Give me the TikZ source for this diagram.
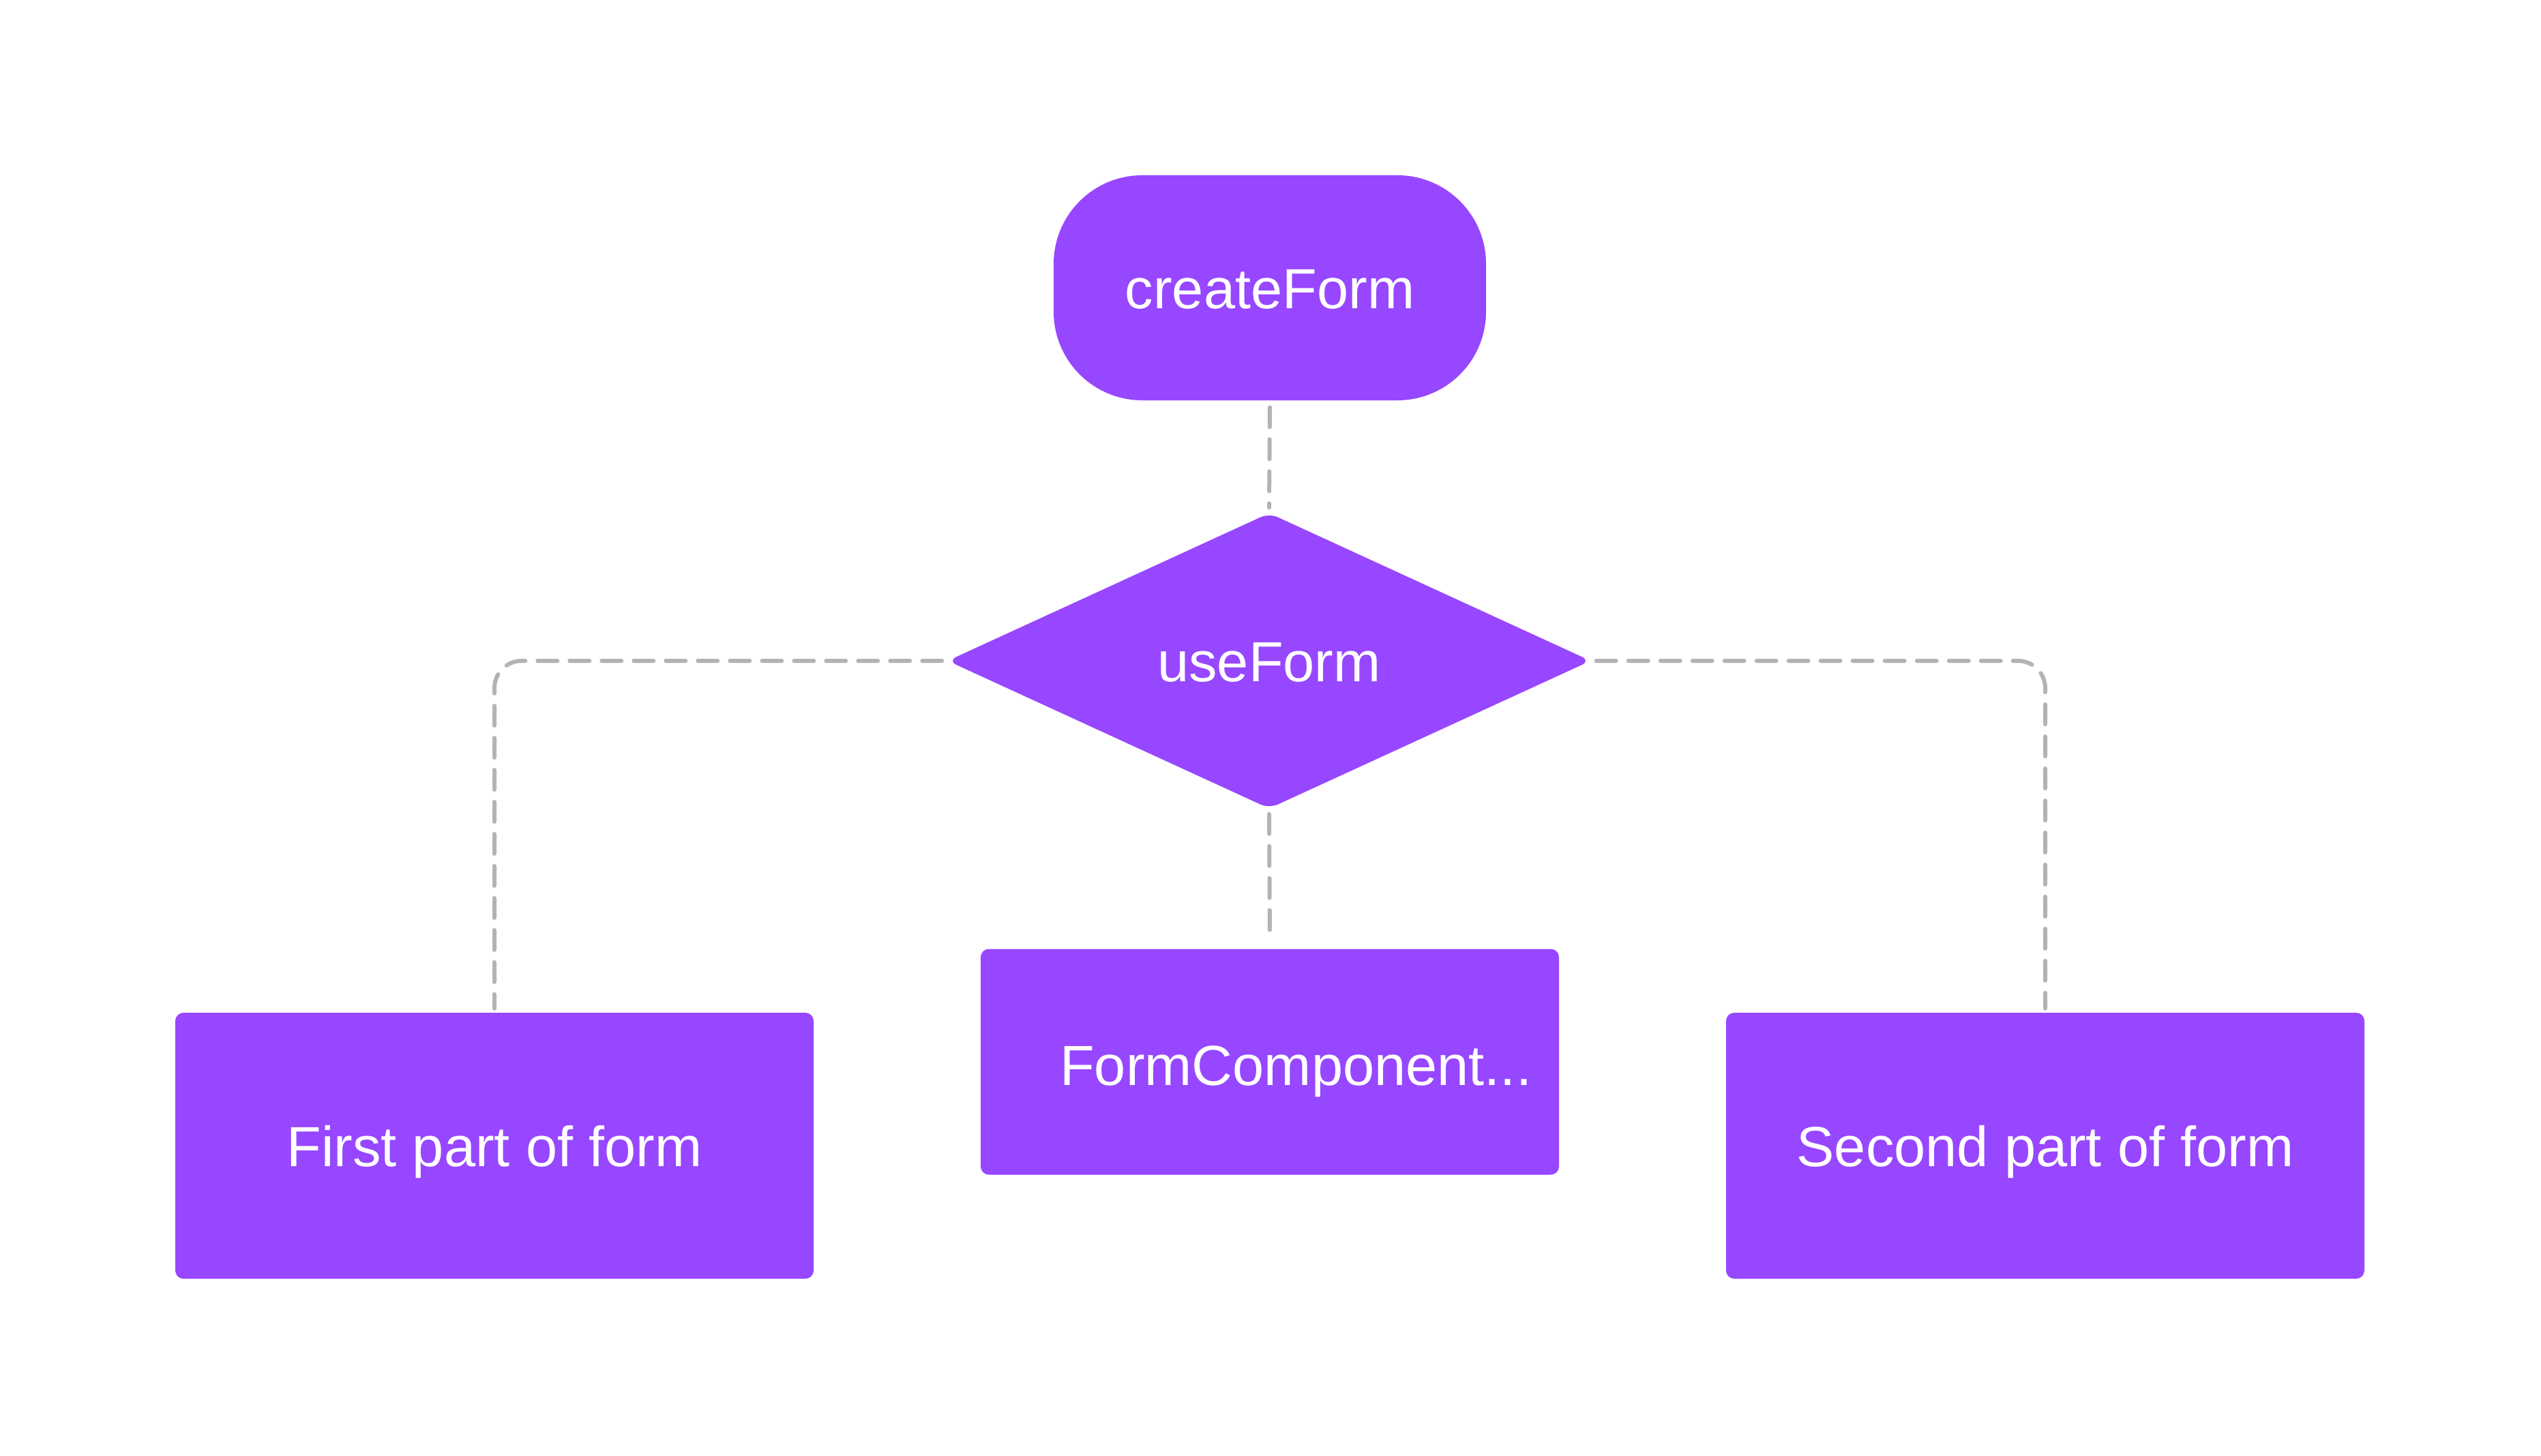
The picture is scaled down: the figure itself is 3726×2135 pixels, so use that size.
\documentclass[tikz,border=0pt]{standalone}
\usepackage{fontspec}
\setmainfont{Liberation Sans}
\usetikzlibrary{shapes.geometric}
\definecolor{fpurple}{HTML}{9747FF}
\definecolor{fgray}{HTML}{B3B3B3}
\tikzset{
  boxbase/.style={fill=fpurple, draw=none, text=white, inner sep=0pt,
    font=\fontsize{83}{99}\selectfont, text height=60pt, text depth=0pt},
  termbox/.style={boxbase, rectangle, rounded corners=130pt, minimum width=634pt, minimum height=330pt},
  decbox/.style={boxbase, diamond, rounded corners=14pt, minimum width=943pt, minimum height=433pt},
  procbox/.style={boxbase, rectangle, rounded corners=12pt},
  conn/.style={draw=fgray, line width=6pt, line cap=round, dash pattern=on 29pt off 18pt},
  lbl/.style={text=white, inner sep=0pt, font=\fontsize{83}{99}\selectfont, text height=60pt, text depth=0pt}
}
\begin{document}
\begin{tikzpicture}[x=1pt, y=-1pt]
\useasboundingbox[fill=white] (0,0) rectangle (3726,2135);
\node[termbox] (cf) at (1862,422) {createForm};
\node[decbox] (uf) at (1861,969) {useForm};
\node[procbox, minimum width=848pt, minimum height=331pt] (fc) at (1862,1557) {};
\node[lbl, anchor=west] (fctext) at (1554,1561) {FormComponent...};
\node[procbox, minimum width=936pt, minimum height=390pt] (first) at (725,1680) {First part of form};
\node[procbox, minimum width=936pt, minimum height=390pt] (second) at (2999,1680) {Second part of form};
\draw[conn] ([yshift=-10pt]cf.south) -- ([yshift=8pt]uf.north);
\draw[conn] ([yshift=-8pt]uf.south) -- ([yshift=10pt]fc.north);
\draw[conn, rounded corners=40pt] ([xshift=-8pt]uf.west) -| ([yshift=6pt]first.north);
\draw[conn, rounded corners=40pt] ([xshift=8pt]uf.east) -| ([yshift=6pt]second.north);
\end{tikzpicture}
\end{document}
